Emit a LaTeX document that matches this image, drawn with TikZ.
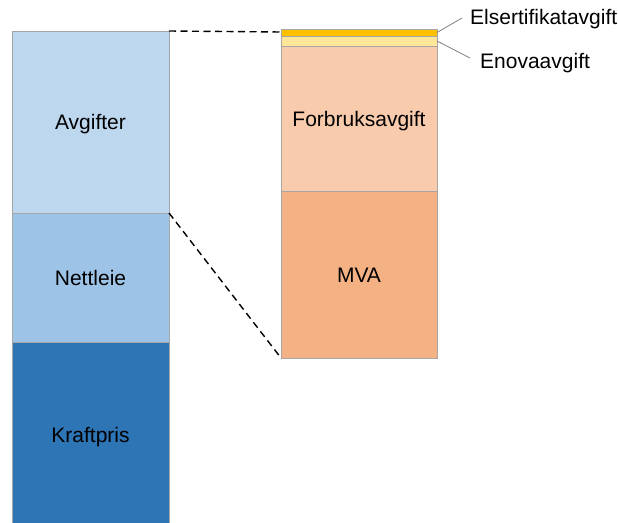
\documentclass[tikz,border=0pt]{standalone}
\usepackage{fontspec}
\setmainfont{Liberation Sans}
\definecolor{cAvg}{HTML}{BDD7EE}
\definecolor{cNett}{HTML}{9DC3E6}
\definecolor{cKraft}{HTML}{2E75B6}
\definecolor{cEls}{HTML}{FFC000}
\definecolor{cEnova}{HTML}{FFE699}
\definecolor{cForb}{HTML}{F8CBAD}
\definecolor{cMVA}{HTML}{F4B183}
\definecolor{cEdge}{HTML}{A6A6A6}
\tikzset{
  seg/.style={draw=cEdge, line width=0.8pt, inner sep=0pt, outer sep=0pt, font=\fontsize{21}{25}\selectfont, text height=15pt, text depth=0pt},
  zoomline/.style={dashed, dash pattern=on 7pt off 4.5pt, line width=1.4pt, black},
  callout/.style={draw=gray, line width=0.8pt},
  lbl/.style={font=\fontsize{21}{25}\selectfont, inner sep=0pt}
}
\begin{document}
\begin{tikzpicture}[x=1pt, y=-1pt]
\useasboundingbox (0,0) rectangle (618,522);
% left bar
\node[seg, fill=cAvg, minimum width=157pt, minimum height=182pt, anchor=north west] (avg) at (12,31) {Avgifter};
\node[seg, fill=cNett, minimum width=157pt, minimum height=129pt, anchor=north west] (nett) at (12,213) {Nettleie};
\node[seg, fill=cKraft, minimum width=157pt, minimum height=186pt, anchor=north west] (kraft) at (12,342) {Kraftpris};
% right bar
\node[seg, fill=cEls, minimum width=156pt, minimum height=7pt, anchor=north west, text height=0pt] (els) at (281,29) {};
\node[seg, fill=cEnova, minimum width=156pt, minimum height=10pt, anchor=north west, text height=0pt] (enova) at (281,36) {};
\node[seg, fill=cForb, minimum width=156pt, minimum height=145pt, anchor=north west] (forb) at (281,46) {Forbruksavgift};
\node[seg, fill=cMVA, minimum width=156pt, minimum height=167pt, anchor=north west] (mva) at (281,191) {MVA};
% zoom lines
\draw[zoomline] (avg.north east) -- (els.north west |- 0,32);
\draw[zoomline] (avg.south east) -- (mva.south west);
% labels
\node[lbl, anchor=west] (elsl) at (470,19) {Elsertifikatavgift};
\node[lbl, anchor=west] (enoval) at (480,63) {Enovaavgift};
\coordinate (e1) at (462,18);
\coordinate (e2) at (470,58);
\draw[callout] (els.east) -- (e1);
\draw[callout] (enova.east) -- (e2);
\end{tikzpicture}
\end{document}
